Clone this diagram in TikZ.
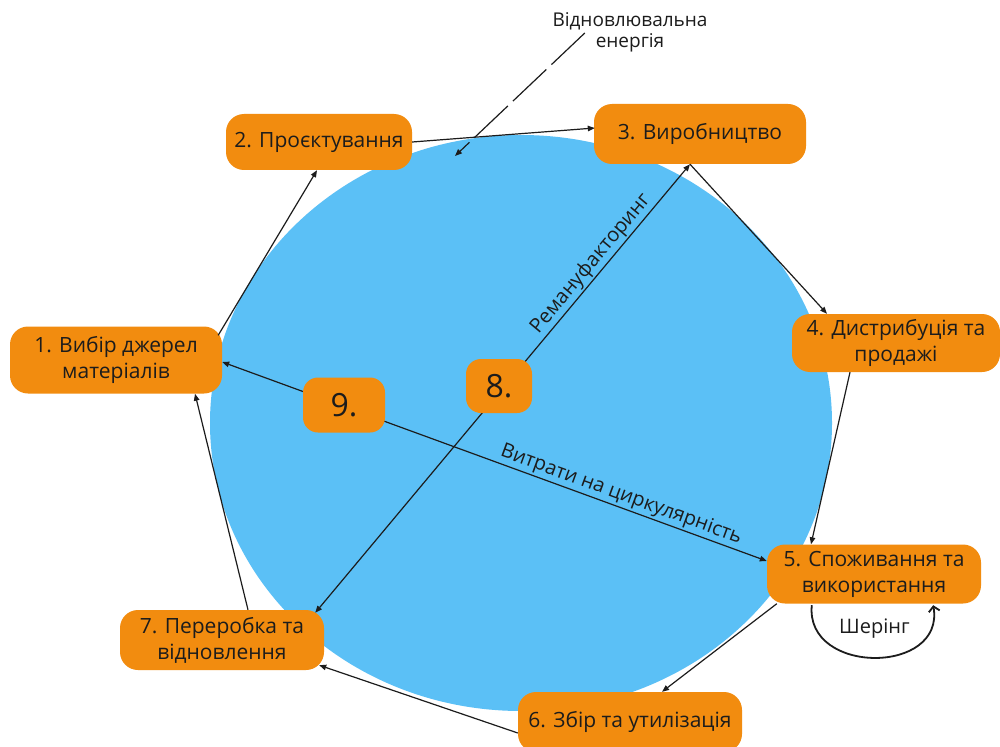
\documentclass[tikz,border=0pt]{standalone}
\usepackage{fontspec}
\setmainfont{Open Sans}
\usetikzlibrary{calc,arrows.meta}
\definecolor{boxorange}{HTML}{F28C0F}
\definecolor{discblue}{HTML}{5BC0F6}
\definecolor{ink}{HTML}{1C1C1C}
\begin{document}
\begin{tikzpicture}[x=1pt,y=1pt,
  stage/.style={fill=boxorange, rounded corners=18pt, align=center, text=ink,
    font=\fontsize{21}{26}\selectfont, inner sep=0pt},
  badge/.style={fill=boxorange, rounded corners=15pt, text=ink,
    font=\fontsize{32}{36}\selectfont, inner sep=0pt},
  flow/.style={draw=ink, line width=1.2pt, -{Triangle[length=7pt,width=5.5pt]}},
  twoway/.style={draw=ink, line width=1.2pt,
    {Triangle[length=7pt,width=5.5pt]}-{Triangle[length=7pt,width=5.5pt]}},
  tag/.style={text=ink, font=\fontsize{20}{23}\selectfont, inner sep=1.5pt}]
\clip (0,0) rectangle (1000,-746);
\fill[white] (0,0) rectangle (1000,-746);

% central disc
\fill[discblue] (521,-423) ellipse [x radius=311, y radius=288];
\coordinate (sun) at (455,-156);

% life-cycle stages
\node[stage, minimum width=212pt, minimum height=67pt] (n1) at (116,-360) {1. Вибір джерел\\матеріалів};
\node[stage, minimum width=186pt, minimum height=56pt] (n2) at (319,-142) {2. Проєктування};
\node[stage, minimum width=212pt, minimum height=60pt] (n3) at (700,-134) {3. Виробництво};
\node[stage, minimum width=208pt, minimum height=58pt] (n4) at (896,-343) {4. Дистрибуція та\\продажі};
\node[stage, minimum width=214pt, minimum height=59pt] (n5) at (874,-574) {5. Споживання та\\використання};
\node[stage, minimum width=224pt, minimum height=60pt] (n6) at (630,-722) {6. Збір та утилізація};
\node[stage, minimum width=204pt, minimum height=60pt] (n7) at (222,-640) {7. Переробка та\\відновлення};

% renewable energy input
\node[tag, align=center, font=\fontsize{19}{21}\selectfont] (re) at (630,-32) {Відновлювальна\\енергія};
\draw[draw=ink, line width=1.2pt, dash pattern=on 46pt off 7pt,
  -{Triangle[length=7pt,width=5.5pt]}] ($(re.west)+(34,-1)$) -- (sun);

% main cycle
\draw[flow] ($(n1.north east)+(-4,-9)$) -- ($(n2.south)+(-2,0)$);
\draw[flow] (n2.east) -- ($(n3.west)+(1,6)$);
\draw[flow] ($(n3.south)+(-10,0)$) -- ($(n4.north)+(-69,0)$);
\draw[flow] ($(n4.south)+(-46,0)$) -- ($(n5.north)+(-63,0)$);
\draw[flow] ($(n5.south west)+(10,0)$) -- ($(n6.north)+(32,0)$);
\draw[flow] ($(n6.west)+(0,-11)$) -- ($(n7.south east)+(-5,5)$);
\draw[flow] ($(n7.north)+(26,0)$) -- ($(n1.south)+(79,0)$);

% inner loops
\draw[twoway] ($(n3.south)+(-10,0)$) -- ($(n7.north east)+(-9,-3)$)
  node[tag, sloped, above, pos=0.24] {Ремануфакторинг};
\draw[twoway] ($(n1.east)+(0,-2)$) -- ($(n5.west)+(0,13)$)
  node[tag, sloped, above, pos=0.725] {Витрати на циркулярність};
\node[badge, minimum width=66pt, minimum height=54pt] (n8) at (499,-386) {8.};
\node[badge, minimum width=82pt, minimum height=55pt] (n9) at (344,-405) {9.};

% sharing loop under stage 5
\draw[draw=ink, line width=1.8pt, -{Straight Barb[length=5pt,width=11pt]}]
  ($(n5.south west)+(45,-1.5)$) .. controls +(-7,-70) and +(12,-70) ..
  ($(n5.south east)+(-48,-1.5)$)
  node[tag, pos=0.5, anchor=base, yshift=24pt] {Шерінг};
\end{tikzpicture}
\end{document}
